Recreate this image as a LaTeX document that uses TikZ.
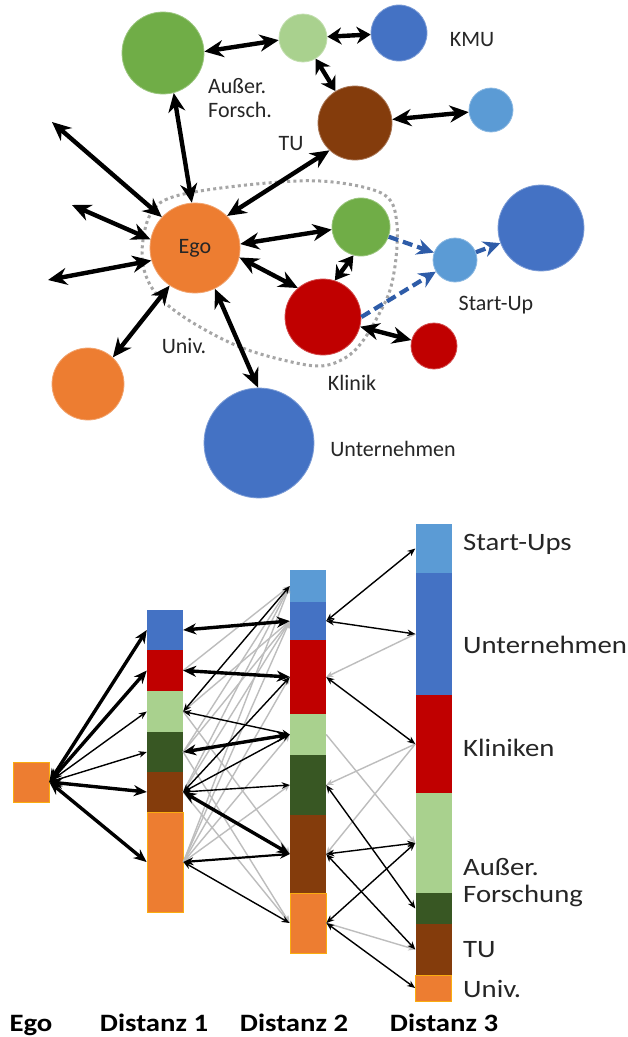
\documentclass[tikz,border=0pt]{standalone}
\usepackage{fontspec}
\setmainfont{Carlito}
\newfontfamily\widefont[FakeStretch=1.15]{Carlito}
\usetikzlibrary{arrows.meta}
\definecolor{cOr}{HTML}{ED7D31}
\definecolor{cGr}{HTML}{70AD47}
\definecolor{cLg}{HTML}{A9D18E}
\definecolor{cDg}{HTML}{385723}
\definecolor{cBl}{HTML}{4472C4}
\definecolor{cLb}{HTML}{5B9BD5}
\definecolor{cRd}{HTML}{C00000}
\definecolor{cBr}{HTML}{843C0C}
\definecolor{cTx}{HTML}{262626}
\definecolor{cDash}{HTML}{2E5CA8}
\definecolor{cGray}{HTML}{BDBDBD}
\definecolor{cDot}{HTML}{A6A6A6}
\definecolor{cEdge}{HTML}{FFC000}
\tikzset{
  blob/.style 2 args={circle, inner sep=0pt, minimum size=#1, fill=#2, draw=#2!70!white, line width=0.8pt},
  toplbl/.style={text=cTx, font=\fontsize{22}{24}\selectfont, inner sep=0pt, align=left},
  botlbl/.style={text=cTx, font=\widefont\fontsize{25}{27}\selectfont, inner sep=0pt, anchor=base west},
  collbl/.style={text=black, font=\widefont\bfseries\fontsize{25}{27}\selectfont, inner sep=0pt, anchor=base},
  bigarr/.style={line width=4.4pt, {Stealth[length=19pt,width=17pt]}-{Stealth[length=19pt,width=17pt]}},
  shortarr/.style={line width=4.4pt, {Stealth[length=14pt,width=17pt]}-{Stealth[length=14pt,width=17pt]}},
  dasharr/.style={draw=cDash, line width=4.2pt, dash pattern=on 10pt off 5pt, -{Stealth[length=17pt,width=16pt]}},
  dotline/.style={draw=cDot, line width=3pt, dash pattern=on 3pt off 3.2pt},
  seg/.style 2 args={rectangle, inner sep=0pt, minimum width=36pt, minimum height=#1, fill=#2},
  orseg/.style={draw=cEdge!70!cOr, line width=0.8pt},
  hv/.style={line width=3.4pt, {Stealth[length=13pt,width=11pt]}-{Stealth[length=13pt,width=11pt]}},
  md/.style={line width=2.2pt, {Stealth[length=10pt,width=8pt]}-{Stealth[length=10pt,width=8pt]}},
  tn/.style={line width=1.4pt, {Stealth[length=8pt,width=6.5pt]}-{Stealth[length=8pt,width=6.5pt]}},
  gr/.style={draw=cGray, line width=1.4pt, -{Stealth[length=7pt,width=6pt]}},
}
\begin{document}
\begin{tikzpicture}[x=1pt, y=-1pt]
\useasboundingbox (0,0) rectangle (628,1037);
\fill[white] (0,0) rectangle (628,1037);

% ---------- top network ----------
\draw[dotline] plot[smooth cycle, tension=0.6] coordinates {
 (150,215) (165,200) (200,191) (267,183) (320,181) (367,188) (390,200)
 (397,225) (396,258) (390,290) (378,316) (362,342) (345,358) (320,366)
 (283,360) (240,347) (200,327) (170,307) (152,288) (143,265) (143,240)};

\node[blob={90pt}{cOr}, text=cTx, font=\fontsize{22}{24}\selectfont] (ego) at (195,248) {Ego};
\node[blob={82pt}{cGr}] (aus) at (163,53) {};
\node[blob={48pt}{cLg}] (lgr) at (303,38) {};
\node[blob={56pt}{cBl}] (kmu) at (399,33) {};
\node[blob={74pt}{cBr}] (tu) at (355,123) {};
\node[blob={44pt}{cLb}] (lbr) at (491,110) {};
\node[blob={58pt}{cGr}] (gmid) at (361,227) {};
\node[blob={44pt}{cLb}] (sup) at (455,260) {};
\node[blob={86pt}{cBl}] (bbr) at (541,228) {};
\node[blob={76pt}{cRd}] (kli) at (323,317) {};
\node[blob={46pt}{cRd}] (rsm) at (434,346) {};
\node[blob={72pt}{cOr}] (uni) at (88,384) {};
\node[blob={110pt}{cBl}] (unt) at (259,443) {};

\coordinate (f1) at (52,122);
\coordinate (f2) at (72,205);
\coordinate (f3) at (48,280);

\draw[bigarr] (ego.94) -- (aus.-75);
\draw[bigarr] (ego.137) -- (f1);
\draw[bigarr] (ego.169) -- (f2);
\draw[bigarr] (ego.196) -- (f3);
\draw[bigarr] (ego.236) -- (uni.47);
\draw[bigarr] (ego.-64) -- (unt.91);
\draw[bigarr] (ego.45) -- (tu.-133);
\draw[bigarr] (ego.5) -- (gmid.185);
\draw[bigarr] (ego.-12) -- (kli.131);
\draw[bigarr] (aus.2) -- (lgr.185);
\draw[shortarr] (lgr) -- (kmu);
\draw[shortarr] (lgr) -- (tu);
\draw[bigarr] (tu) -- (lbr);
\draw[shortarr] (gmid.-105) -- (kli.72);
\draw[bigarr] (kli) -- (rsm);
\draw[dasharr] (gmid) -- (sup);
\draw[dasharr] (kli.0) -- (sup);
\draw[dasharr] (sup) -- (bbr);

\node[toplbl, anchor=north west] (laus) at (208,78) {Außer.\\Forsch.};
\node[toplbl] (ltut) at (291,144) {TU};
\node[toplbl] (lkmu) at (472,40) {KMU};
\node[toplbl] (lunit) at (184,346) {Univ.};
\node[toplbl] (lsupt) at (496,305) {Start-Up};
\node[toplbl] (lklit) at (352,383) {Klinik};
\node[toplbl] (luntt) at (393,449) {Unternehmen};

% ---------- bottom chart ----------
\node[seg={40pt}{cOr}, orseg] (egosq) at (31,782) {};

\node[seg={40pt}{cBl}] (d1bl) at (165,630) {};
\node[seg={41pt}{cRd}] (d1rd) at (165,670.5) {};
\node[seg={41pt}{cLg}] (d1lg) at (165,711.5) {};
\node[seg={40pt}{cDg}] (d1dg) at (165,752) {};
\node[seg={40pt}{cBr}] (d1br) at (165,792) {};
\node[seg={100pt}{cOr}, orseg] (d1or) at (165,862) {};

\node[seg={32pt}{cLb}] (d2lb) at (308,586) {};
\node[seg={38pt}{cBl}] (d2bl) at (308,621) {};
\node[seg={74pt}{cRd}] (d2rd) at (308,677) {};
\node[seg={41pt}{cLg}] (d2lg) at (308,734.5) {};
\node[seg={60pt}{cDg}] (d2dg) at (308,785) {};
\node[seg={78pt}{cBr}] (d2br) at (308,854) {};
\node[seg={60pt}{cOr}, orseg] (d2or) at (308,923) {};

\node[seg={49pt}{cLb}] (d3lb) at (433.5,548.5) {};
\node[seg={122pt}{cBl}] (d3bl) at (433.5,634) {};
\node[seg={98pt}{cRd}] (d3rd) at (433.5,744) {};
\node[seg={100pt}{cLg}] (d3lg) at (433.5,843) {};
\node[seg={31pt}{cDg}] (d3dg) at (433.5,908.5) {};
\node[seg={51pt}{cBr}] (d3br) at (433.5,949.5) {};
\node[seg={26pt}{cOr}, orseg] (d3or) at (433.5,988) {};

% gray links
\draw[gr] (d1rd.east) -- (d2lb.west);
\draw[gr] (d1lg.east) -- (d2bl.west);
\draw[gr] (d1dg.east) -- (d2lb.west);
\draw[gr] (d1dg.east) -- (d2bl.west);
\draw[gr] (d1br.east) -- (d2lb.west);
\draw[gr] (d1br.east) -- (d2bl.west);
\draw[gr] (d1or.east) -- (d2lb.west);
\draw[gr] (d1or.east) -- (d2bl.west);
\draw[gr] (d1or.east) -- (d2rd.west);
\draw[gr] (d1or.east) -- (d2lg.west);
\draw[gr] (d1or.east) -- (d2dg.west);
\draw[gr] (d1lg.east) -- (d2br.west);
\draw[gr] (d1dg.east) -- (d2or.west);
\draw[gr] (d1br.east) -- (d2or.west);
\draw[gr] (d3bl.west) -- (d2rd.east);
\draw[gr] (d3rd.west) -- (d2dg.east);
\draw[gr] (d3rd.west) -- (d2br.east);
\draw[gr] (d2lg.east) -- (d3lg.west);
\draw[gr] (d2or.east) -- (d3br.west);

% Ego links
\draw[hv] (egosq.east) -- (d1bl.west);
\draw[hv] (egosq.east) -- (d1rd.west);
\draw[tn] (egosq.east) -- (d1lg.west);
\draw[tn] (egosq.east) -- (d1dg.west);
\draw[hv] (egosq.east) -- (d1br.west);
\draw[hv] (egosq.east) -- (d1or.west);

% Distanz 1 - 2
\draw[hv] (d1bl.east) -- (d2bl.west);
\draw[hv] (d1rd.east) -- (d2rd.west);
\draw[tn] (d1lg.east) -- (d2lb.west);
\draw[tn] (d1lg.east) -- (d2lg.west);
\draw[hv] (d1dg.east) -- (d2lg.west);
\draw[tn] (d1br.east) -- (d2rd.west);
\draw[tn] (d1br.east) -- (d2lg.west);
\draw[tn] (d1br.east) -- (d2dg.west);
\draw[hv] (d1br.east) -- (d2br.west);
\draw[md] (d1or.east) -- (d2br.west);
\draw[tn] (d1or.east) -- (d2or.west);

% Distanz 2 - 3
\draw[tn] (d2bl.east) -- (d3lb.west);
\draw[tn] (d2bl.east) -- (d3bl.west);
\draw[tn] (d2rd.east) -- (d3rd.west);
\draw[tn] (d2dg.east) -- (d3dg.west);
\draw[tn] (d2br.east) -- (d3lg.west);
\draw[tn] (d2br.east) -- (d3br.west);
\draw[tn] (d2or.east) -- (d3lg.west);
\draw[tn] (d2or.east) -- (d3or.west);

% labels
\node[botlbl] (lsu) at (463,550) {Start-Ups};
\node[botlbl] (lun) at (463,653) {Unternehmen};
\node[botlbl] (lkl) at (463,756) {Kliniken};
\node[botlbl] (lau) at (463,875) {Außer.};
\node[botlbl] (lfo) at (463,902) {Forschung};
\node[botlbl] (ltu) at (463,957) {TU};
\node[botlbl] (luv) at (463,997) {Univ.};

\node[collbl] (c0) at (31,1031) {Ego};
\node[collbl] (c1) at (154,1031) {Distanz 1};
\node[collbl] (c2) at (294,1031) {Distanz 2};
\node[collbl] (c3) at (444,1031) {Distanz 3};
\end{tikzpicture}
\end{document}
